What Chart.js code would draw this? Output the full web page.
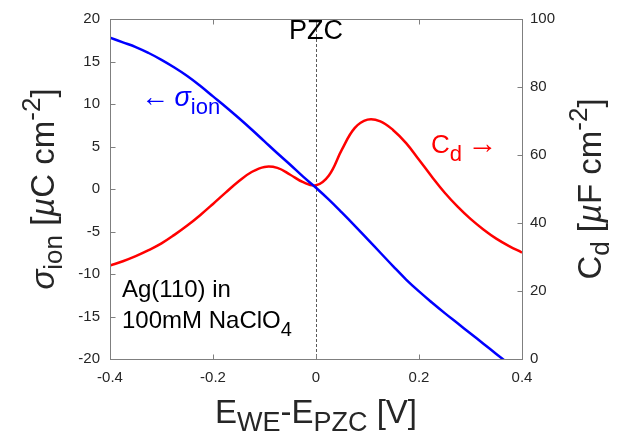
<!DOCTYPE html>
<html>
<head>
<meta charset="utf-8">
<title>Ag(110) ionic charge and capacitance</title>
<script src="https://cdn.jsdelivr.net/npm/chart.js@4.4.2/dist/chart.umd.min.js"></script>
<style>
  html, body { margin: 0; padding: 0; background: #fff; }
  canvas { display: block; }
</style>
</head>
<body>
<canvas id="chart" width="624" height="445"></canvas>
<script>
// ---------- DATA ----------
// potential vs. PZC [V]
const potential = [-0.4, -0.375, -0.35, -0.325, -0.3, -0.275, -0.25, -0.225, -0.2, -0.175,
                   -0.15, -0.125, -0.1, -0.075, -0.05, -0.025, 0, 0.025, 0.05,
                   0.075, 0.1, 0.125, 0.15, 0.175, 0.2, 0.225, 0.25, 0.275,
                   0.3, 0.325, 0.35, 0.375, 0.4];
// ionic charge density [uC cm^-2] (left axis)
const sigmaIon = [17.8, 17.25, 16.7, 16.0, 15.2, 14.3, 13.3, 12.15, 10.9, 9.65,
                  8.35, 7.0, 5.6, 4.2, 2.85, 1.45, 0.15, -1.25, -2.75,
                  -4.3, -5.9, -7.5, -9.1, -10.65, -12.05, -13.35, -14.6, -15.8,
                  -17.0, -18.2, -19.4, -20.6, -21.8];
// differential capacitance [uF cm^-2] (right axis)
const capacitance = [27.5, 28.75, 30.25, 32.0, 34.0, 36.5, 39.25, 42.3, 45.6, 49.0,
                     52.3, 55.0, 56.5, 56.2, 54.2, 52.0, 51.1, 54.0, 61.5,
                     67.9, 70.4, 69.9, 67.3, 63.5, 58.6, 53.6, 48.9, 44.8,
                     41.2, 38.1, 35.4, 33.2, 31.3];

const xTicks  = [-0.4, -0.2, 0, 0.2, 0.4];
const yTicks  = [-20, -15, -10, -5, 0, 5, 10, 15, 20];
const y2Ticks = [0, 20, 40, 60, 80, 100];

// ---------- STYLE ----------
const FONT      = '"Liberation Sans", Arial, sans-serif';
const AXIS_GREY = "#7f7f7f";
const TEXT_DARK = "#262626";
const TICK_LEN  = 5;

// text pieces with sub/superscripts, laid out along one baseline
function richWidth(ctx, parts) {
  let w = 0;
  for (const p of parts) {
    ctx.font = (p.it ? "italic " : "") + p.s + "px " + FONT;
    w += ctx.measureText(p.t).width;
  }
  return w;
}
function drawRich(ctx, parts, x, y, align, color) {
  const w = richWidth(ctx, parts);
  let cx = align === "center" ? x - w / 2 : align === "right" ? x - w : x;
  ctx.fillStyle = color;
  ctx.textBaseline = "alphabetic";
  ctx.textAlign = "left";
  for (const p of parts) {
    ctx.font = (p.it ? "italic " : "") + p.s + "px " + FONT;
    ctx.fillText(p.t, cx, y + (p.dy || 0));
    cx += ctx.measureText(p.t).width;
  }
}
function drawRotated(ctx, parts, x, y, color) {
  ctx.save();
  ctx.translate(x, y);
  ctx.rotate(-Math.PI / 2);
  drawRich(ctx, parts, 0, 0, "center", color);
  ctx.restore();
}

// ---------- PLUGINS ----------
// dashed PZC marker behind the curves
const pzcLine = {
  id: "pzcLine",
  beforeDatasetsDraw(chart) {
    const { ctx, chartArea: a, scales } = chart;
    const px = Math.round(scales.x.getPixelForValue(0)) + 0.5;
    ctx.save();
    ctx.strokeStyle = "#5a5a5a";
    ctx.lineWidth = 1;
    ctx.setLineDash([3, 2]);
    ctx.beginPath();
    ctx.moveTo(px, a.top);
    ctx.lineTo(px, a.bottom);
    ctx.stroke();
    ctx.restore();
  }
};

// box, inward ticks, titles and annotations
const frame = {
  id: "frame",
  afterDatasetsDraw(chart) {
    const { ctx, chartArea: a, scales } = chart;
    const L = Math.round(a.left) + 0.5, R = Math.round(a.right) + 0.5;
    const T = Math.round(a.top) + 0.5,  B = Math.round(a.bottom) + 0.5;
    ctx.save();
    ctx.strokeStyle = AXIS_GREY;
    ctx.lineWidth = 1;
    ctx.strokeRect(L, T, R - L, B - T);
    ctx.beginPath();
    scales.x.ticks.forEach(t => {
      const px = Math.round(scales.x.getPixelForValue(t.value)) + 0.5;
      ctx.moveTo(px, B); ctx.lineTo(px, B - TICK_LEN);
      ctx.moveTo(px, T); ctx.lineTo(px, T + TICK_LEN);
    });
    scales.y.ticks.forEach(t => {
      const py = Math.round(scales.y.getPixelForValue(t.value)) + 0.5;
      ctx.moveTo(L, py); ctx.lineTo(L + TICK_LEN, py);
    });
    scales.y2.ticks.forEach(t => {
      const py = Math.round(scales.y2.getPixelForValue(t.value)) + 0.5;
      ctx.moveTo(R, py); ctx.lineTo(R - TICK_LEN, py);
    });
    ctx.stroke();

    const midY = (a.top + a.bottom) / 2;
    const midX = (a.left + a.right) / 2;

    // axis titles
    drawRich(ctx, [
      { t: "E", s: 33 }, { t: "WE", s: 27, dy: 8 },
      { t: "-E", s: 33 }, { t: "PZC", s: 27, dy: 8 },
      { t: " [V]", s: 33 }
    ], midX, 423, "center", TEXT_DARK);

    drawRotated(ctx, [
      { t: "σ", s: 33, it: true }, { t: "ion", s: 26, dy: 8 },
      { t: " [", s: 33 }, { t: "µ", s: 33, it: true }, { t: "C cm", s: 33 },
      { t: "-2", s: 26, dy: -14 }, { t: "]", s: 33 }
    ], 54, midY, TEXT_DARK);

    drawRotated(ctx, [
      { t: "C", s: 33 }, { t: "d", s: 26, dy: 8 },
      { t: " [", s: 33 }, { t: "µ", s: 33, it: true }, { t: "F cm", s: 33 },
      { t: "-2", s: 26, dy: -14 }, { t: "]", s: 33 }
    ], 601, midY, TEXT_DARK);

    // annotations
    drawRich(ctx, [{ t: "PZC", s: 27 }], scales.x.getPixelForValue(0), 39, "center", "#000");
    drawRich(ctx, [
      { t: "←", s: 28 }, { t: " ", s: 20 }, { t: "σ", s: 27, it: true }, { t: "ion", s: 22, dy: 8 }
    ], 141, 106, "left", "#0000ff");
    drawRich(ctx, [
      { t: "C", s: 26 }, { t: "d", s: 22, dy: 8 }, { t: " ", s: 20 }, { t: "→", s: 30 }
    ], 431, 153, "left", "#ff0000");
    drawRich(ctx, [{ t: "Ag(110) in", s: 24 }], 122, 297, "left", "#000");
    drawRich(ctx, [
      { t: "100mM NaClO", s: 24 }, { t: "4", s: 20, dy: 8 }
    ], 122, 328, "left", "#000");
    ctx.restore();
  }
};

// ---------- CHART ----------
const tickFont = { family: FONT, size: 15 };
const fmt = v => String(Number(Number(v).toFixed(1)));

new Chart(document.getElementById("chart"), {
  type: "line",
  data: {
    datasets: [
      {
        label: "sigma_ion",
        data: potential.map((x, i) => ({ x, y: sigmaIon[i] })),
        yAxisID: "y",
        borderColor: "#0000ff",
        borderWidth: 2.5,
        pointRadius: 0,
        tension: 0.4,
        fill: false
      },
      {
        label: "C_d",
        data: potential.map((x, i) => ({ x, y: capacitance[i] })),
        yAxisID: "y2",
        borderColor: "#ff0000",
        borderWidth: 2.5,
        pointRadius: 0,
        tension: 0.4,
        fill: false
      }
    ]
  },
  options: {
    responsive: false,
    animation: false,
    events: [],
    layout: { padding: { top: 11, left: 0, right: 0, bottom: 0 } },
    plugins: { legend: { display: false }, tooltip: { enabled: false } },
    scales: {
      x: {
        type: "linear", position: "bottom",
        min: xTicks[0], max: xTicks[xTicks.length - 1],
        afterBuildTicks: s => { s.ticks = xTicks.map(v => ({ value: v })); },
        afterFit: s => { s.height = 86; },
        grid: { display: false, drawTicks: false },
        border: { display: false },
        ticks: { color: TEXT_DARK, font: tickFont, padding: 10, maxRotation: 0, callback: fmt }
      },
      y: {
        type: "linear", position: "left",
        min: yTicks[0], max: yTicks[yTicks.length - 1],
        afterBuildTicks: s => { s.ticks = yTicks.map(v => ({ value: v })); },
        afterFit: s => { s.width = 110; },
        grid: { display: false, drawTicks: false },
        border: { display: false },
        ticks: { color: TEXT_DARK, font: tickFont, padding: 10, callback: fmt }
      },
      y2: {
        type: "linear", position: "right",
        min: y2Ticks[0], max: y2Ticks[y2Ticks.length - 1],
        afterBuildTicks: s => { s.ticks = y2Ticks.map(v => ({ value: v })); },
        afterFit: s => { s.width = 102; },
        grid: { display: false, drawTicks: false },
        border: { display: false },
        ticks: { color: TEXT_DARK, font: tickFont, padding: 8, callback: fmt }
      }
    }
  },
  plugins: [pzcLine, frame]
});
</script>
</body>
</html>
